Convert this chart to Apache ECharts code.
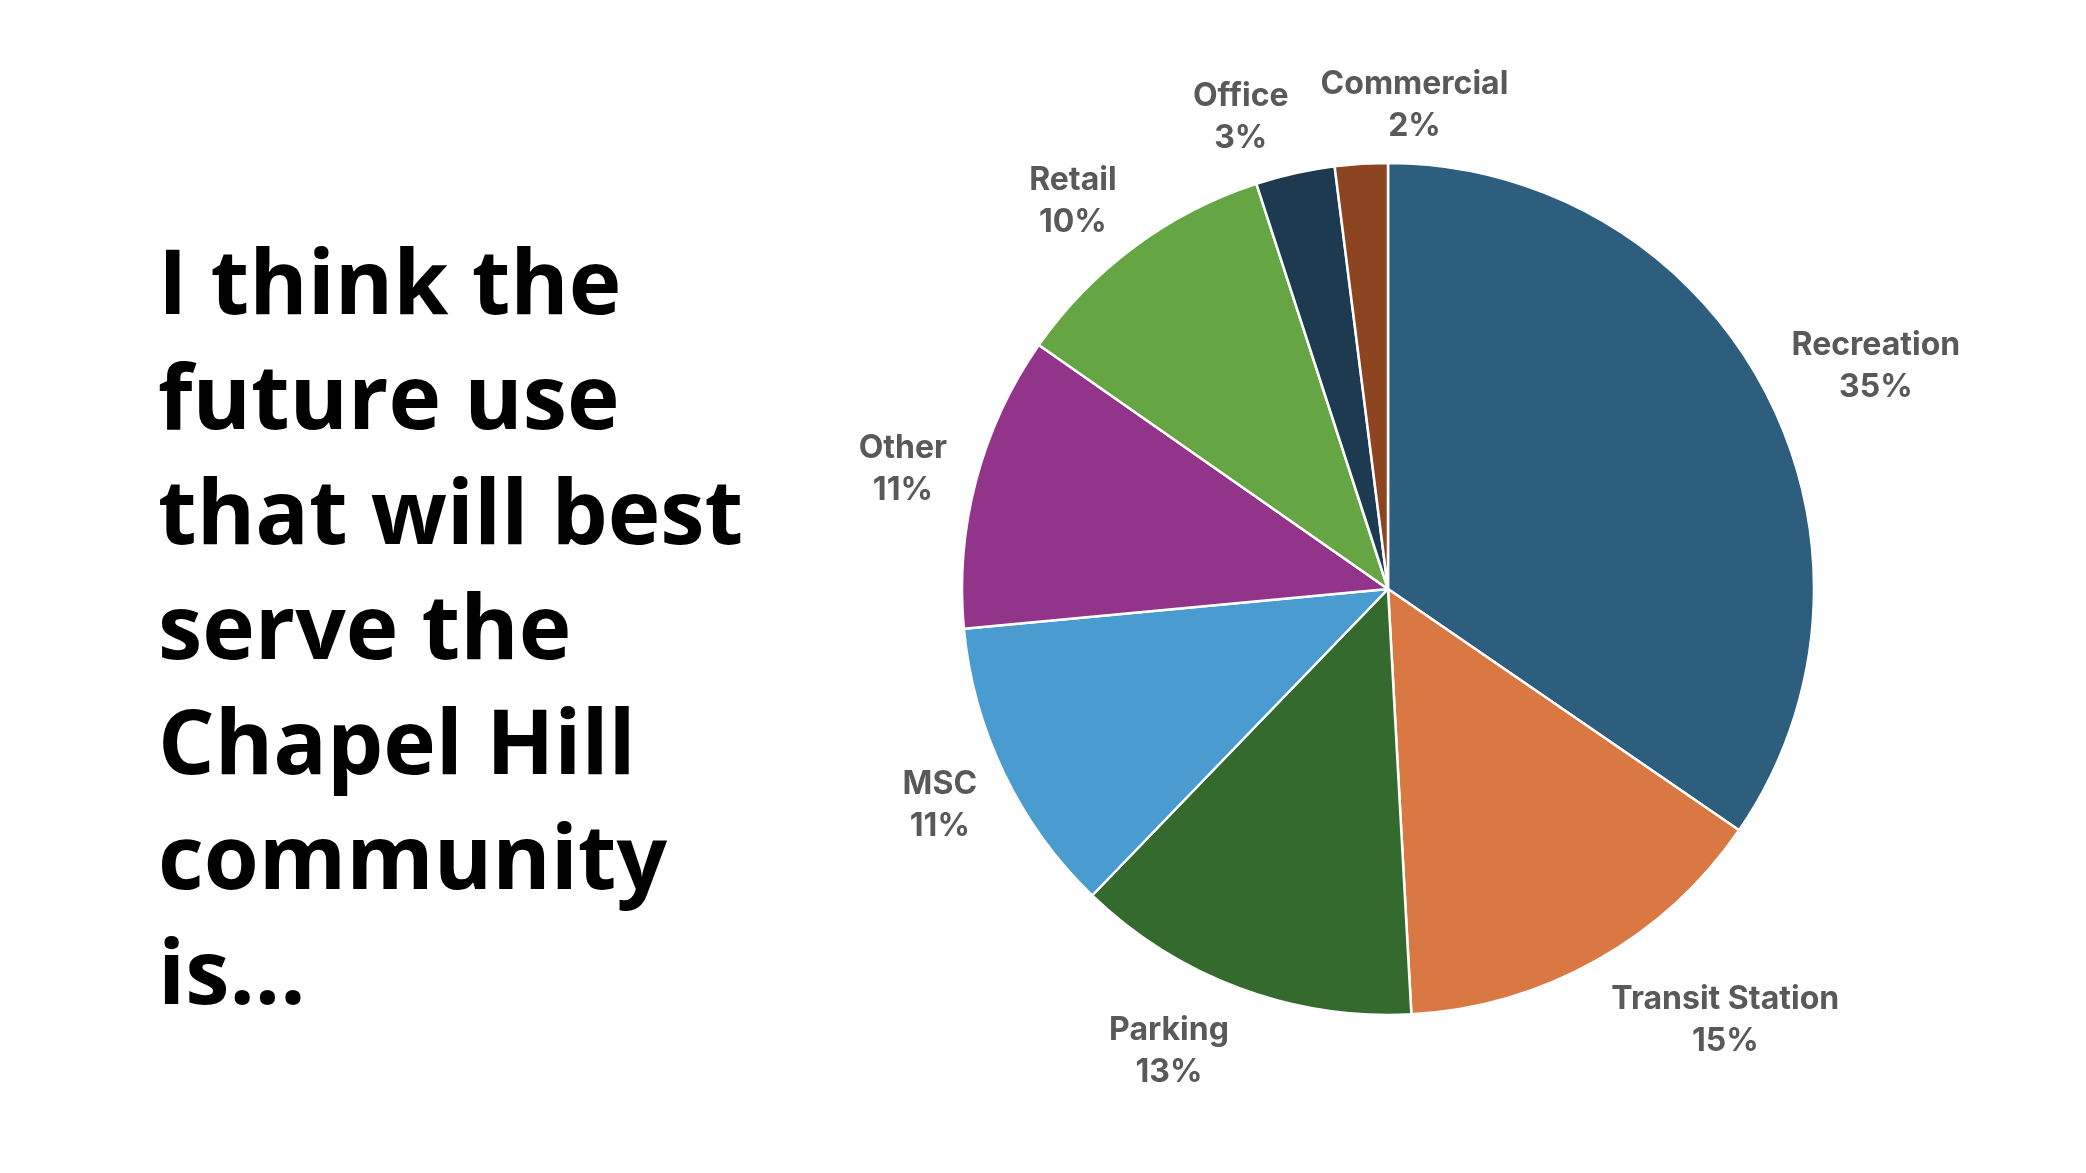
<!DOCTYPE html>
<html>
<head>
<meta charset="utf-8">
<title>Chapel Hill future use</title>
<script src="https://cdn.jsdelivr.net/npm/echarts@6/dist/echarts.min.js"></script>
<style>
  html, body { margin: 0; padding: 0; background: #fff; }
  #main { width: 2086px; height: 1173px; }
</style>
</head>
<body>
<div id="main"></div>
<script>
// survey answers, share of responses (%)
var categories = ['Recreation', 'Transit Station', 'Parking', 'MSC', 'Other', 'Retail', 'Office', 'Commercial'];
var shares = [34.6, 14.55, 13.1, 11.3, 11.2, 10.3, 3.0, 2.0];
var colors = ['#2E5E7E', '#DA7843', '#356A2F', '#4A9BD0', '#92348A', '#66A543', '#1D3A51', '#8C4421'];
var question = ['I think the', 'future use', 'that will best', 'serve the', 'Chapel Hill', 'community', 'is...'];

var chart = echarts.init(document.getElementById('main'));

var cx = 1388, cy = 589, R = 426;
var labelSize = 32, labelLH = 42, gap = 30;

var total = shares.reduce(function (s, v) { return s + v; }, 0);
function labelText(i) {
  return [categories[i], Math.round(shares[i] / total * 100) + '%'];
}

// measure labels, then put the corner nearest the pie on the slice's middle ray
var ctx = document.createElement('canvas').getContext('2d');
ctx.font = 'bold ' + labelSize + 'px Inter';
var labels = [];
var acc = 0;
shares.forEach(function (v, i) {
  var mid = (acc + v / 2) / total * 360;
  acc += v;
  var w = Math.max.apply(null, labelText(i).map(function (t) { return ctx.measureText(t).width; }));
  labels.push({ ang: mid, w: w, h: labelLH + labelSize * 0.72 });
});
function place(l) {
  var a = l.ang * Math.PI / 180, dx = Math.sin(a), dy = -Math.cos(a);
  var px = cx + (R + gap) * dx, py = cy + (R + gap) * dy;
  l.x = px + l.w / 2 * Math.max(-1, Math.min(1, dx / 0.15));
  l.y = py + l.h / 2 * dy + 5;
}
labels.forEach(place);
// if a label hits the one before it, slide it on clockwise
for (var it = 0; it < 400; it++) {
  var moved = false;
  for (var i = 0; i < labels.length; i++) {
    var a = labels[i], b = labels[(i + 1) % labels.length];
    if (Math.abs(a.x - b.x) < (a.w + b.w) / 2 + 30 && Math.abs(a.y - b.y) < (a.h + b.h) / 2 + 4) {
      b.ang += 0.25;
      place(b);
      moved = true;
    }
  }
  if (!moved) break;
}

chart.setOption({
  backgroundColor: '#fff',
  animation: false,
  title: {
    text: question.join('\n'),
    left: 158,
    top: 231,
    padding: 0,
    textStyle: {
      fontFamily: 'Open Sans',
      fontWeight: 'bold',
      fontSize: 89,
      lineHeight: 115,
      color: '#000'
    }
  },
  series: [{
    type: 'pie',
    center: [cx, cy],
    radius: R,
    startAngle: 90,
    clockwise: true,
    avoidLabelOverlap: false,
    data: categories.map(function (c, i) {
      return { name: c, value: shares[i], itemStyle: { color: colors[i] } };
    }),
    itemStyle: { borderColor: '#fff', borderWidth: 2.5 },
    label: {
      show: true,
      position: 'outside',
      formatter: function (p) { return labelText(p.dataIndex).join('\n'); },
      fontFamily: 'Inter',
      fontWeight: 'bold',
      fontSize: labelSize,
      lineHeight: labelLH,
      color: '#595959'
    },
    labelLine: { show: false },
    labelLayout: function (p) {
      var l = labels[p.dataIndex];
      return { x: l.x, y: l.y, align: 'center', verticalAlign: 'middle' };
    },
    emphasis: { disabled: true }
  }]
});
</script>
</body>
</html>
